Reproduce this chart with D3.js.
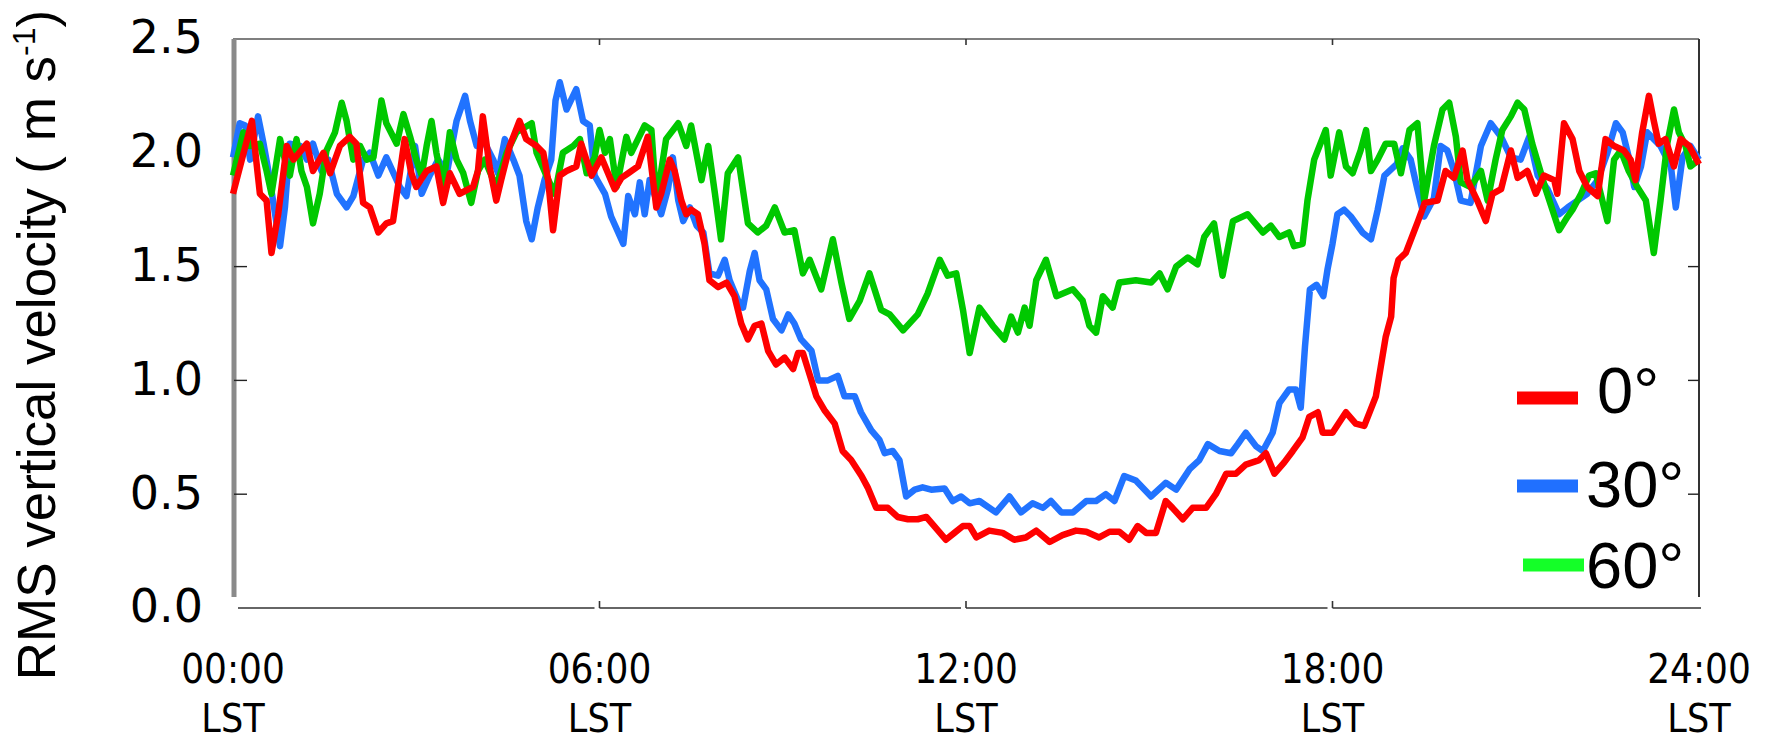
<!DOCTYPE html>
<html><head><meta charset="utf-8">
<script src="https://cdn.jsdelivr.net/npm/d3@7"></script>
<style>body{margin:0;background:#fff}svg{display:block}</style>
</head><body>
<svg id="chart" width="1769" height="741"></svg>
<script>
// ---- data ----
const xTickHours = [0, 6, 12, 18, 24];
const xTickLabels = ["00:00", "06:00", "12:00", "18:00", "24:00"];
const xTickSub = "LST";
const yTicks = [0, 0.5, 1.0, 1.5, 2.0, 2.5];
const yLabel = "RMS vertical velocity ( m s";
const seriesNames = ["0\u00B0", "30\u00B0", "60\u00B0"];

// [hour LST, RMS vertical velocity m/s]
const zenith0 = [[0.00,1.82],[0.31,2.14],[0.44,1.82],[0.55,1.79],[0.63,1.56],[0.74,1.73],[0.88,2.03],[0.99,1.97],[1.21,2.04],[1.31,1.92],[1.48,2.00],[1.59,1.91],[1.75,2.03],[1.91,2.07],[2.02,2.04],[2.13,1.78],[2.24,1.76],[2.38,1.65],[2.51,1.69],[2.62,1.70],[2.81,2.06],[2.92,1.91],[3.00,1.85],[3.17,1.92],[3.33,1.94],[3.44,1.78],[3.55,1.91],[3.71,1.82],[3.93,1.85],[4.01,1.92],[4.09,2.16],[4.20,1.94],[4.31,1.79],[4.39,1.88],[4.53,2.03],[4.69,2.14],[4.80,2.06],[4.97,2.03],[5.08,2.00],[5.16,1.88],[5.24,1.66],[5.35,1.90],[5.46,1.92],[5.62,1.94],[5.70,2.04],[5.87,1.90],
[6.03,1.98],[6.25,1.84],[6.36,1.89],[6.47,1.91],[6.63,1.94],[6.79,2.07],[6.93,1.76],[7.01,1.82],[7.15,1.97],[7.23,1.92],[7.34,1.79],[7.42,1.73],[7.50,1.75],[7.61,1.73],[7.72,1.60],[7.80,1.44],[7.94,1.41],[8.08,1.43],[8.21,1.37],[8.32,1.25],[8.43,1.18],[8.54,1.24],[8.65,1.25],[8.76,1.13],[8.89,1.07],[9.03,1.10],[9.17,1.05],[9.25,1.12],[9.33,1.12],[9.47,1.00],[9.55,0.93],[9.68,0.87],[9.85,0.81],[9.98,0.69],[10.12,0.65],[10.29,0.58],[10.39,0.53],[10.53,0.44],[10.72,0.44],[10.88,0.40],[11.05,0.39],[11.21,0.39],[11.35,0.40],[11.48,0.36],[11.67,0.30],[11.81,0.33],[11.95,0.36],
[12.06,0.36],[12.17,0.31],[12.38,0.34],[12.60,0.33],[12.79,0.30],[12.98,0.31],[13.15,0.34],[13.37,0.29],[13.58,0.32],[13.80,0.34],[13.97,0.335],[14.18,0.31],[14.35,0.335],[14.51,0.335],[14.67,0.30],[14.81,0.36],[14.95,0.33],[15.11,0.33],[15.27,0.47],[15.38,0.44],[15.55,0.39],[15.71,0.44],[15.93,0.44],[16.09,0.50],[16.26,0.59],[16.42,0.59],[16.58,0.63],[16.80,0.65],[16.91,0.68],[17.05,0.59],[17.21,0.64],[17.35,0.69],[17.51,0.75],[17.62,0.84],[17.76,0.86],[17.84,0.77],[18.00,0.77],
[18.22,0.86],[18.38,0.81],[18.52,0.80],[18.71,0.93],[18.79,1.06],[18.87,1.19],[18.96,1.28],[19.00,1.45],[19.08,1.53],[19.20,1.56],[19.40,1.70],[19.51,1.78],[19.72,1.79],[19.85,1.92],[19.99,1.89],[20.13,2.01],[20.21,1.88],[20.37,1.79],[20.51,1.70],[20.62,1.82],[20.76,1.84],[20.92,2.01],[21.03,1.89],[21.19,1.92],[21.33,1.82],[21.46,1.90],[21.63,1.88],[21.68,1.82],[21.79,2.13],[21.93,2.06],[22.04,1.92],[22.17,1.85],[22.34,1.81],[22.47,2.06],[22.61,2.03],[22.77,2.01],[22.88,1.97],[22.96,1.88],[23.07,2.09],[23.18,2.25],[23.26,2.14],[23.34,2.04],[23.45,2.06],[23.59,1.94],[23.70,2.06],[23.84,2.03],[24.00,1.95]];

const zenith30 = [[0.00,1.98],[0.11,2.13],[0.20,2.12],[0.28,1.97],[0.41,2.16],[0.50,2.04],[0.58,1.92],[0.77,1.59],[0.85,1.76],[0.93,2.04],[1.10,2.03],[1.21,1.97],[1.31,2.04],[1.45,1.92],[1.56,1.97],[1.70,1.82],[1.86,1.76],[1.97,1.81],[2.13,1.97],[2.24,2.00],[2.38,1.90],[2.51,1.98],[2.73,1.85],[2.84,1.81],[2.98,2.03],[3.09,1.82],[3.22,1.90],[3.36,1.97],[3.50,1.91],[3.66,2.14],[3.80,2.25],[3.88,2.14],[3.99,2.03],[4.09,2.06],[4.26,1.97],[4.34,1.91],[4.45,2.06],[4.59,1.97],[4.69,1.90],[4.80,1.70],[4.89,1.62],[4.99,1.76],[5.10,1.88],[5.21,1.97],[5.28,2.23],[5.35,2.31],[5.46,2.19],[5.62,2.28],[5.73,2.14],[5.84,2.12],
[5.92,1.90],[6.09,1.82],[6.19,1.72],[6.39,1.60],[6.47,1.81],[6.58,1.73],[6.66,1.87],[6.74,1.73],[6.82,1.88],[7.01,1.73],[7.12,1.84],[7.20,1.98],[7.29,1.79],[7.37,1.70],[7.48,1.76],[7.59,1.68],[7.70,1.65],[7.80,1.47],[7.94,1.46],[8.05,1.53],[8.13,1.44],[8.27,1.35],[8.35,1.32],[8.46,1.48],[8.54,1.56],[8.62,1.44],[8.73,1.40],[8.84,1.27],[8.98,1.22],[9.09,1.29],[9.19,1.25],[9.30,1.18],[9.47,1.13],[9.58,1.00],[9.74,1.00],[9.90,1.02],[10.01,0.93],[10.18,0.93],[10.28,0.86],[10.45,0.78],[10.58,0.74],[10.67,0.68],[10.80,0.69],[10.91,0.65],[11.02,0.49],[11.16,0.52],[11.29,0.53],[11.43,0.52],[11.65,0.525],[11.78,0.47],[11.92,0.49],
[12.06,0.46],[12.22,0.47],[12.49,0.42],[12.71,0.49],[12.90,0.42],[13.09,0.46],[13.26,0.44],[13.39,0.47],[13.56,0.42],[13.75,0.42],[13.97,0.47],[14.13,0.47],[14.29,0.50],[14.43,0.47],[14.59,0.58],[14.78,0.56],[15.03,0.49],[15.27,0.55],[15.44,0.52],[15.66,0.61],[15.82,0.65],[15.96,0.72],[16.15,0.69],[16.34,0.68],[16.45,0.72],[16.58,0.77],[16.75,0.71],[16.86,0.69],[17.02,0.77],[17.13,0.90],[17.29,0.96],[17.40,0.96],[17.48,0.88],
[17.55,1.15],[17.63,1.40],[17.74,1.42],[17.85,1.37],[17.92,1.49],[18.00,1.60],[18.08,1.73],[18.19,1.75],[18.30,1.72],[18.49,1.65],[18.63,1.62],[18.74,1.75],[18.85,1.90],[19.05,1.95],[19.15,2.02],[19.28,1.97],[19.39,1.84],[19.50,1.72],[19.66,1.80],[19.77,2.03],[19.88,2.01],[19.99,1.92],[20.10,1.79],[20.26,1.78],[20.43,2.03],[20.59,2.13],[20.76,2.07],[20.92,1.98],[21.08,1.97],[21.22,2.07],[21.36,1.90],[21.52,1.84],[21.71,1.73],[21.85,1.76],[22.01,1.79],[22.17,1.82],[22.34,1.88],[22.50,2.00],[22.64,2.13],[22.75,2.09],[22.86,1.97],[22.94,1.85],[23.05,1.94],[23.15,2.09],[23.26,2.06],[23.37,2.03],[23.54,1.94],[23.62,1.76],[23.73,1.98],[23.86,2.03],[24.00,1.97]];

const zenith60 = [[0.00,1.90],[0.17,2.09],[0.28,2.03],[0.44,2.04],[0.55,1.92],[0.63,1.82],[0.77,2.06],[0.85,1.97],[0.93,1.90],[1.04,2.06],[1.12,1.92],[1.21,1.85],[1.31,1.69],[1.42,1.82],[1.53,2.01],[1.67,2.09],[1.78,2.22],[1.86,2.14],[1.97,1.97],[2.08,2.03],[2.19,1.97],[2.30,1.98],[2.43,2.23],[2.51,2.13],[2.68,2.04],[2.79,2.17],[2.90,2.07],[3.00,1.97],[3.09,1.90],[3.17,2.03],[3.25,2.14],[3.33,2.00],[3.44,1.85],[3.55,2.09],[3.66,1.97],[3.77,1.91],[3.90,1.78],[4.01,1.92],[4.12,1.97],[4.31,1.85],[4.48,2.00],[4.64,2.09],[4.89,2.13],[4.97,2.00],[5.13,1.90],[5.27,1.82],[5.40,2.00],[5.57,2.03],[5.68,2.06],[5.79,1.91],
[5.92,1.98],[6.00,2.10],[6.09,2.00],[6.17,2.06],[6.28,1.85],[6.44,2.07],[6.52,2.00],[6.63,2.06],[6.74,2.12],[6.85,2.10],[6.93,1.79],[7.01,1.92],[7.09,2.06],[7.29,2.13],[7.42,2.03],[7.50,2.12],[7.67,1.88],[7.78,2.03],[7.89,1.82],[7.99,1.62],[8.10,1.91],[8.27,1.98],[8.43,1.69],[8.59,1.65],[8.73,1.68],[8.87,1.76],[9.03,1.65],[9.19,1.66],[9.33,1.47],[9.44,1.53],[9.63,1.40],[9.82,1.62],[9.96,1.43],[10.09,1.27],[10.26,1.35],[10.42,1.47],[10.61,1.31],[10.75,1.29],[10.97,1.22],[11.21,1.29],[11.37,1.38],[11.57,1.53],[11.70,1.46],[11.84,1.47],[11.95,1.31],[12.06,1.12],
[12.22,1.32],[12.44,1.24],[12.63,1.18],[12.74,1.28],[12.85,1.21],[12.96,1.32],[13.04,1.24],[13.15,1.44],[13.31,1.53],[13.48,1.37],[13.75,1.40],[13.91,1.35],[14.02,1.24],[14.13,1.21],[14.24,1.37],[14.40,1.32],[14.51,1.43],[14.78,1.44],[15.03,1.43],[15.17,1.47],[15.30,1.40],[15.44,1.50],[15.63,1.54],[15.79,1.51],[15.90,1.63],[16.06,1.69],[16.20,1.46],[16.37,1.70],[16.61,1.73],[16.86,1.65],[16.99,1.68],[17.13,1.63],[17.29,1.65],[17.37,1.59],[17.51,1.60],[17.59,1.79],[17.70,1.97],[17.89,2.10],[17.97,1.90],
[18.11,2.09],[18.22,1.94],[18.33,1.91],[18.46,2.01],[18.55,2.10],[18.63,1.92],[18.74,1.97],[18.87,2.04],[19.01,2.04],[19.12,1.91],[19.26,2.10],[19.39,2.13],[19.50,1.79],[19.66,2.03],[19.80,2.19],[19.91,2.22],[20.02,2.07],[20.10,1.87],[20.26,1.85],[20.43,1.92],[20.54,1.79],[20.67,1.97],[20.78,2.10],[20.92,2.16],[21.03,2.22],[21.14,2.19],[21.27,2.04],[21.38,1.94],[21.49,1.84],[21.60,1.75],[21.71,1.66],[21.85,1.72],[21.93,1.75],[22.07,1.82],[22.20,1.90],[22.31,1.91],[22.39,1.82],[22.50,1.70],[22.61,1.97],[22.72,2.01],[22.85,1.92],[22.99,1.85],[23.13,1.79],[23.26,1.56],[23.37,1.79],[23.48,2.04],[23.59,2.19],[23.67,2.09],[23.78,2.03],[23.86,1.94],[24.00,1.97]];

const lineColors = ["#ff0000", "#2173ff", "#00c800"];
const legendColors = ["#ff0000", "#2070ff", "#14ff28"];

// ---- layout ----
const svg = d3.select("#chart");
const x = d3.scaleLinear().domain([0, 24]).range([233, 1699]);
const y = d3.scaleLinear().domain([0, 2.5]).range([608, 39]);

// y tick labels
const yAxis = d3.axisLeft(y).tickValues(yTicks).tickFormat(d3.format(".1f")).tickSize(0).tickPadding(30);
const ga = svg.append("g").attr("transform", "translate(233,0)").call(yAxis);
ga.select(".domain").remove();
ga.selectAll("text").attr("font-family", "DejaVu Sans").attr("font-size", 46).attr("fill", "#000").attr("dy", "0.3em");

// frame: top and right
svg.append("line").attr("x1", 233).attr("x2", 1699).attr("y1", 39).attr("y2", 39).attr("stroke", "#555").attr("stroke-width", 1.6);
svg.append("line").attr("x1", 1699).attr("x2", 1699).attr("y1", 39).attr("y2", 597).attr("stroke", "#333").attr("stroke-width", 2);

// bottom axis with small gaps at inner ticks
const inner = [6, 12, 18];
const bx = [238, ...inner.flatMap(h => [x(h) - 5, x(h)]), 1701];
for (let i = 0; i < bx.length; i += 2) {
  svg.append("line").attr("x1", bx[i]).attr("x2", bx[i + 1]).attr("y1", 608).attr("y2", 608).attr("stroke", "#333").attr("stroke-width", 1.6);
}
inner.forEach(h => {
  svg.append("line").attr("x1", x(h)).attr("x2", x(h)).attr("y1", 608).attr("y2", 601).attr("stroke", "#333").attr("stroke-width", 1.6);
  svg.append("line").attr("x1", x(h)).attr("x2", x(h)).attr("y1", 39).attr("y2", 45).attr("stroke", "#333").attr("stroke-width", 1.6);
});

// left axis (thick grey) with inward ticks
svg.append("line").attr("x1", 234).attr("x2", 234).attr("y1", 39).attr("y2", 597).attr("stroke", "#8a8a8a").attr("stroke-width", 5);
const innerY = [0.5, 1.0, 1.5, 2.0];
innerY.forEach(v => {
  svg.append("line").attr("x1", 234).attr("x2", 247).attr("y1", y(v)).attr("y2", y(v)).attr("stroke", "#222").attr("stroke-width", 1.4);
  svg.append("line").attr("x1", 1688).attr("x2", 1699).attr("y1", y(v)).attr("y2", y(v)).attr("stroke", "#222").attr("stroke-width", 1.4);
});

// x tick labels
xTickHours.forEach((h, i) => {
  const g = svg.append("g").attr("transform", `translate(${x(h)},0)`);
  g.append("text").attr("transform", "translate(0,683) scale(0.9,1)").attr("text-anchor", "middle")
    .attr("font-family", "DejaVu Sans").attr("font-size", 40).text(xTickLabels[i]);
  g.append("text").attr("transform", "translate(0,732) scale(0.9,1)").attr("text-anchor", "middle")
    .attr("font-family", "DejaVu Sans").attr("font-size", 39).text(xTickSub);
});

// y label
const yl = svg.append("text").attr("transform", "translate(55,345) rotate(-90)").attr("text-anchor", "middle")
  .attr("font-family", "Liberation Sans, Arial, sans-serif").attr("font-size", 53).attr("fill", "#000");
yl.append("tspan").text(yLabel);
yl.append("tspan").attr("font-size", 32).attr("dy", -20).text("-1");
yl.append("tspan").attr("dy", 20).text(")");

// series lines
const line = d3.line().x(d => x(d[0])).y(d => y(d[1]));
const series = [zenith0, zenith30, zenith60];
[1, 2, 0].forEach(i => {
  svg.append("path").datum(series[i]).attr("d", line).attr("fill", "none")
    .attr("stroke", lineColors[i]).attr("stroke-width", 6.5).attr("stroke-linejoin", "round");
});

// legend
const legY = [398, 486, 565];
const legX1 = [1517, 1517, 1523];
const legTextX = [1597, 1586, 1586];
const legBase = [413, 507, 588];
seriesNames.forEach((n, i) => {
  svg.append("rect").attr("x", legX1[i]).attr("y", legY[i] - 6.5).attr("width", 61).attr("height", 13).attr("fill", legendColors[i]);
  svg.append("text").attr("x", legTextX[i]).attr("y", legBase[i]).attr("font-family", "Liberation Sans, Arial, sans-serif")
    .attr("font-size", 65).attr("fill", "#000").text(n);
});
</script>
</body></html>
